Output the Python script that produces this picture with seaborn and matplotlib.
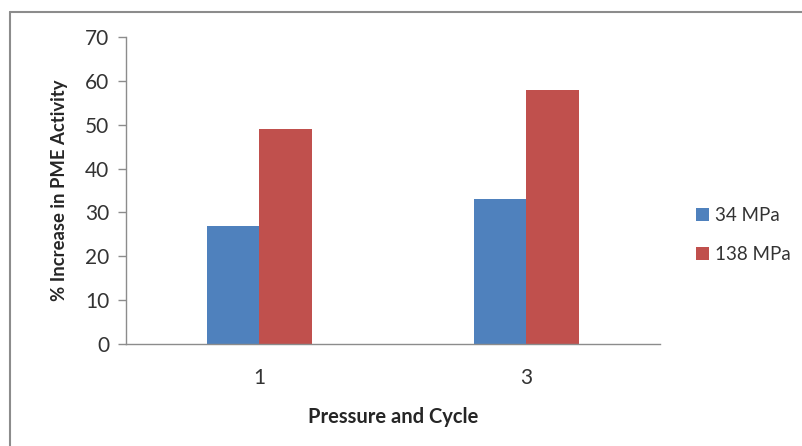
import matplotlib
matplotlib.use("Agg")
import matplotlib.pyplot as plt
import seaborn as sns
import pandas as pd
from matplotlib.patches import Patch
from matplotlib.lines import Line2D

categories = ["1", "3"]
series_names = ["34 MPa", "138 MPa"]
values_34 = [27, 33]
values_138 = [49, 58]
colors = ["#4F81BD", "#C0504D"]

df = pd.DataFrame({
    "cycle": categories * 2,
    "series": [series_names[0]] * 2 + [series_names[1]] * 2,
    "value": values_34 + values_138,
})

sns.set_theme(style="white")
plt.rcParams["font.family"] = ["Lato", "DejaVu Sans"]

fig = plt.figure(figsize=(8.03, 4.46), dpi=100)
ax = fig.add_axes([126 / 803, 1 - 344 / 446, (660 - 126) / 803, (344 - 37) / 446])

sns.barplot(data=df, x="cycle", y="value", hue="series", order=categories,
            hue_order=series_names, palette=colors, width=0.395, saturation=1,
            edgecolor="none", linewidth=0, ax=ax, legend=False)

ax.set_xlim(-0.5, 1.5)
ax.set_ylim(0, 70)
ax.set_yticks(range(0, 71, 10))
for s in ["top", "right"]:
    ax.spines[s].set_visible(False)
for s in ["left", "bottom"]:
    ax.spines[s].set_color("#8c8c8c")
    ax.spines[s].set_linewidth(1)
ax.tick_params(axis="y", which="both", left=True, length=6, width=1, color="#8c8c8c",
               labelsize=15, labelcolor="#333333", pad=6)
ax.tick_params(axis="x", bottom=False, labelsize=15, labelcolor="#333333", pad=11)
ax.set_ylabel("% Increase in PME Activity", fontsize=13.3, fontweight="bold", labelpad=12)
ax.set_xlabel("Pressure and Cycle", fontsize=14.5, fontweight="bold", labelpad=14)
ax.grid(False)

handles = [Patch(facecolor=c, edgecolor="none") for c in colors]
fig.legend(handles, series_names, loc="center left", bbox_to_anchor=(696 / 803, 1 - 235 / 446),
           frameon=False, fontsize=13.5, handlelength=0.7, handleheight=0.7,
           handletextpad=0.3, labelspacing=1.2, labelcolor="#333333",
           borderpad=0, borderaxespad=0)

# outer chart border
fig.add_artist(Line2D([10 / 803, 10 / 803], [0, 1 - 12 / 446], transform=fig.transFigure,
                      color="#8c8c8c", linewidth=1.5))
fig.add_artist(Line2D([10 / 803, 1], [1 - 12 / 446, 1 - 12 / 446], transform=fig.transFigure,
                      color="#8c8c8c", linewidth=1.5))

fig.savefig("out.png", dpi=100)
